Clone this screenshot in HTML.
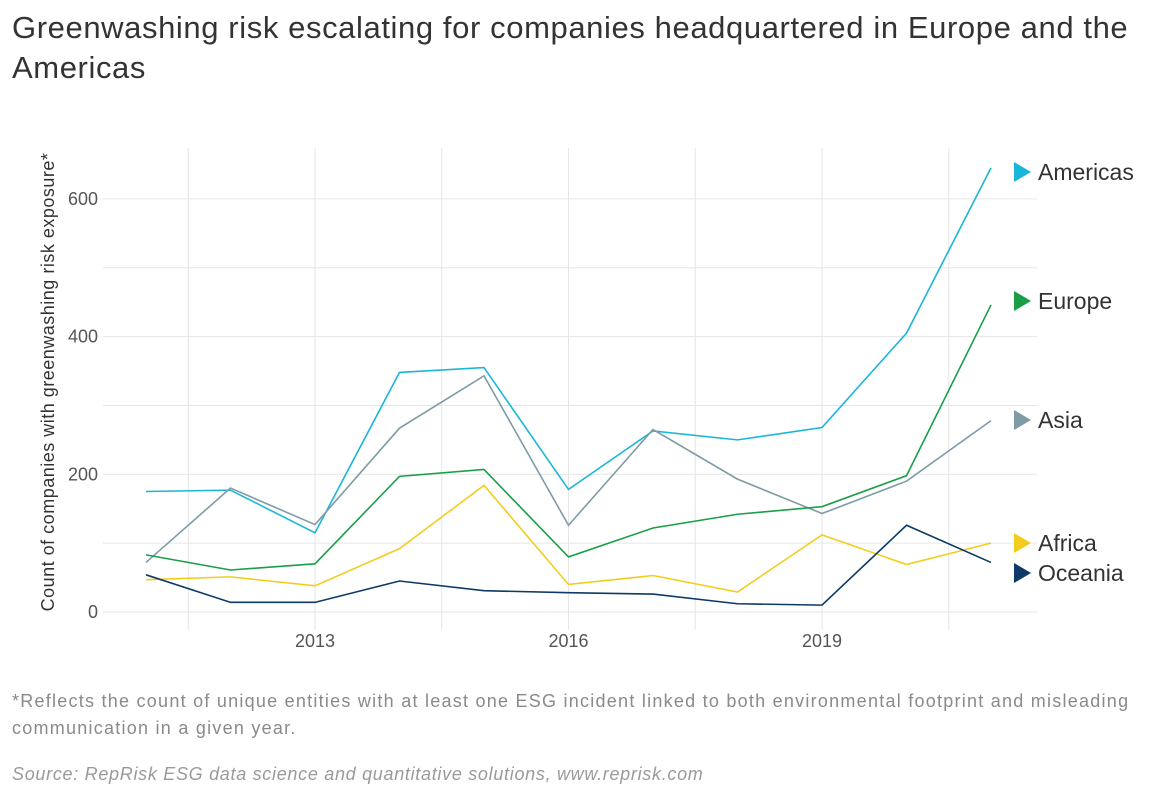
<!DOCTYPE html>
<html><head><meta charset="utf-8"><style>
body{margin:0;background:#fff;width:1164px;height:808px;overflow:hidden;font-family:"Liberation Sans",sans-serif;}
#title{position:absolute;left:12px;top:8px;font-size:31px;letter-spacing:0.6px;line-height:40px;color:#333;white-space:nowrap;}
#note{position:absolute;left:12px;top:688px;font-size:18px;letter-spacing:1.25px;line-height:27px;color:#8a8a8a;white-space:nowrap;}
#src{position:absolute;left:12px;top:764px;font-size:18px;letter-spacing:0.7px;font-style:italic;color:#9a9a9a;white-space:nowrap;}
svg{position:absolute;left:0;top:0;}
</style></head><body>
<div id="title">Greenwashing risk escalating for companies headquartered in Europe and the<br>Americas</div>
<svg id="chart" width="1164" height="808"></svg>
<div id="note">*Reflects the count of unique entities with at least one ESG incident linked to both environmental footprint and misleading<br>communication in a given year.</div>
<div id="src">Source: RepRisk ESG data science and quantitative solutions, www.reprisk.com</div>
<script>
const years=[2011,2012,2013,2014,2015,2016,2017,2018,2019,2020,2021];
const americas=[175,177,115,348,355,178,263,250,268,405,645];
const asia=[72,180,127,267,343,126,265,193,143,190,278];
const europe=[83,61,70,197,207,80,122,142,153,198,446];
const africa=[47,51,38,92,184,40,53,29,112,69,100];
const oceania=[54,14,14,45,31,28,26,12,10,126,72];
const yTicks=[0,200,400,600];
const xTicks=[2013,2016,2019];
const NS="http://www.w3.org/2000/svg";
const svg=document.getElementById('chart');
const X=v=>146+(v-2011)*84.5;
const Y=v=>612-v*0.6885;
function mk(t,a,p){const e=document.createElementNS(NS,t);for(const k in a)e.setAttribute(k,a[k]);(p||svg).appendChild(e);return e;}
for(let v=0;v<=670;v+=100){const g=mk('line',{x1:103,x2:1037,y1:Y(v),y2:Y(v),stroke:'#e6e6e6','stroke-width':1});

}
for(let v=2011.5;v<=2021;v+=1.5){const g=mk('line',{x1:X(v),x2:X(v),y1:148,y2:630,stroke:'#e6e6e6','stroke-width':1});

}
yTicks.forEach(v=>{const t=mk('text',{x:98,y:Y(v)+6,'text-anchor':'end','font-size':18,fill:'#555','font-family':'Liberation Sans,sans-serif'});t.textContent=v;

});
xTicks.forEach(v=>{const t=mk('text',{x:X(v),y:647,'text-anchor':'middle','font-size':18,fill:'#555','font-family':'Liberation Sans,sans-serif'});t.textContent=v;

});
const yt=mk('text',{x:0,y:0,transform:'translate(54,382) rotate(-90)','text-anchor':'middle','font-size':18,'letter-spacing':0.5,fill:'#333','font-family':'Liberation Sans,sans-serif'});
yt.textContent='Count of companies with greenwashing risk exposure*';


const series=[['Americas',americas,'#1ab6d9',172],['Asia',asia,'#7f9ba6',420],['Europe',europe,'#1a9e48',301],['Africa',africa,'#f2cd1c',543],['Oceania',oceania,'#0d3a66',573]];
series.forEach(([name,d,c,ly])=>{
 const p=mk('polyline',{points:d.map((v,i)=>X(years[i])+','+Y(v)).join(' '),fill:'none',stroke:c,'stroke-width':1.6});
 
 
 const tr=mk('polygon',{points:`1014,${ly-10} 1031,${ly} 1014,${ly+10}`,fill:c});
 
 
 const t=mk('text',{x:1038,y:ly+8,'font-size':23,fill:'#333','font-family':'Liberation Sans,sans-serif'});t.textContent=name;
 
 
});
</script>
</body></html>
